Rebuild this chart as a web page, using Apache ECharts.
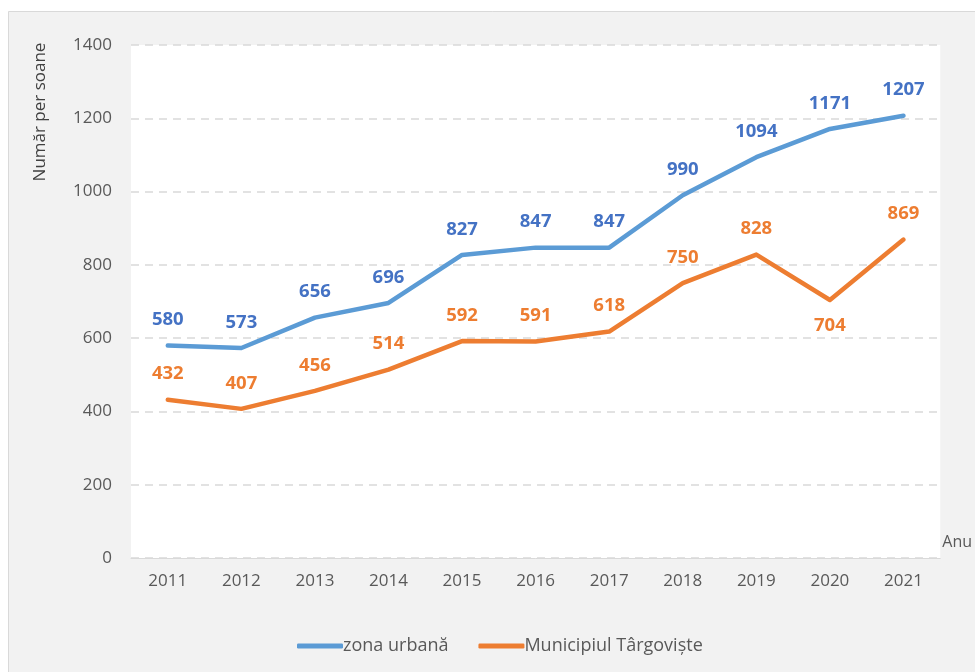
<!DOCTYPE html>
<html>
<head>
<meta charset="utf-8">
<style>
  html, body { margin: 0; padding: 0; background: #ffffff; }
  #chart { width: 975px; height: 672px; }
</style>
<script src="https://cdn.jsdelivr.net/npm/echarts@6/dist/echarts.min.js"></script>
</head>
<body>
<div id="chart"></div>
<script>
// Years on the horizontal axis
const years = ['2011', '2012', '2013', '2014', '2015', '2016', '2017', '2018', '2019', '2020', '2021'];
// Number of persons per year
const zonaUrbana = [580, 573, 656, 696, 827, 847, 847, 990, 1094, 1171, 1207];
const municipiulTargoviste = [432, 407, 456, 514, 592, 591, 618, 750, 828, 704, 869];
// Series names shown in the legend
const seriesNames = ['zona urbană', 'Municipiul Târgoviște'];

const FONT = '"Open Sans", "Noto Sans", sans-serif';
const chart = echarts.init(document.getElementById('chart'), null, { renderer: 'canvas' });

// Orange labels sit above the line except where the line dips
const orangeData = municipiulTargoviste.map((v, i) => {
  const prev = municipiulTargoviste[i - 1];
  const next = municipiulTargoviste[i + 1];
  const dip = prev !== undefined && next !== undefined && v < prev && v < next && i > 5;
  return dip ? { value: v, label: { position: 'bottom' } } : v;
});

chart.setOption({
  backgroundColor: 'transparent',
  animation: false,
  graphic: [
    {
      type: 'rect',
      z: -10,
      shape: { x: 8.5, y: 11.5, width: 1000, height: 700 },
      style: { fill: '#f2f2f2', stroke: '#d9d9d9', lineWidth: 1 }
    },
    {
      type: 'text',
      x: 40, y: 112,
      rotation: Math.PI / 2,
      style: {
        text: 'Număr per soane',
        font: '17px ' + FONT,
        fill: '#404040',
        align: 'center',
        verticalAlign: 'middle'
      }
    }
  ],
  grid: {
    left: 131, width: 810, top: 45, bottom: 114,
    show: true, backgroundColor: '#ffffff', borderWidth: 0
  },
  legend: {
    bottom: 12,
    left: 292,
    itemWidth: 46,
    itemHeight: 5,
    itemGap: 30,
    icon: 'roundRect',
    textStyle: { fontFamily: FONT, fontSize: 18, color: '#595959', padding: [0, 0, 0, -5] },
    data: seriesNames
  },
  xAxis: {
    type: 'category',
    data: years,
    boundaryGap: true,
    name: 'Anu',
    nameLocation: 'end',
    nameGap: 2,
    nameTextStyle: { fontFamily: FONT, fontSize: 16, color: '#595959', align: 'left', verticalAlign: 'bottom', padding: [0, 0, 8, 0] },
    axisLine: { lineStyle: { color: '#d9d9d9', width: 1 } },
    axisTick: { show: false },
    axisLabel: { fontFamily: FONT, fontSize: 17, color: '#595959', margin: 15 }
  },
  yAxis: {
    type: 'value',
    min: 0, max: 1400, interval: 200,
    axisLine: { show: false },
    axisTick: { show: false },
    axisLabel: { fontFamily: FONT, fontSize: 17, color: '#595959', margin: 19, formatter: v => String(v) },
    splitLine: { lineStyle: { color: '#d9d9d9', type: [8, 6], width: 1.5 } }
  },
  series: [
    {
      name: seriesNames[0],
      type: 'line',
      data: zonaUrbana,
      symbol: 'circle',
      symbolSize: 0.1,
      showSymbol: true,
      lineStyle: { color: '#5b9bd5', width: 4.5, cap: 'round', join: 'round' },
      itemStyle: { color: '#5b9bd5' },
      label: {
        show: true, position: 'top', distance: 16,
        fontFamily: FONT, fontSize: 18.5, fontWeight: 'bold', color: '#4472c4'
      },
      z: 3
    },
    {
      name: seriesNames[1],
      type: 'line',
      data: orangeData,
      symbol: 'circle',
      symbolSize: 0.1,
      showSymbol: true,
      lineStyle: { color: '#ed7d31', width: 4.5, cap: 'round', join: 'round' },
      itemStyle: { color: '#ed7d31' },
      label: {
        show: true, position: 'top', distance: 16,
        fontFamily: FONT, fontSize: 18.5, fontWeight: 'bold', color: '#ed7d31'
      },
      z: 3
    }
  ]
});
</script>
</body>
</html>
